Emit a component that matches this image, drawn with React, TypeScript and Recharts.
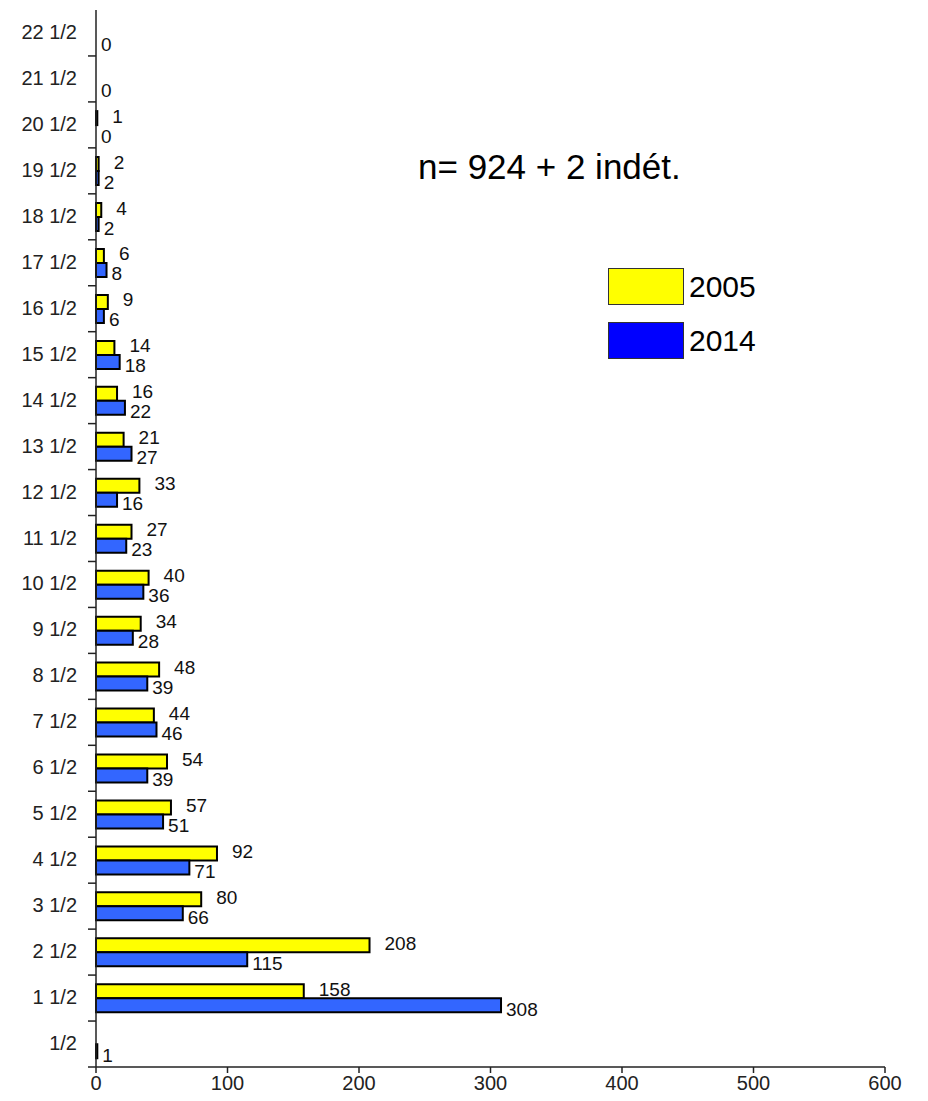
import React from "react";
import { Bar, BarChart, LabelList, Rectangle, XAxis, YAxis } from "recharts";

const categories = [
  "1/2", "1 1/2", "2 1/2", "3 1/2", "4 1/2", "5 1/2", "6 1/2", "7 1/2",
  "8 1/2", "9 1/2", "10 1/2", "11 1/2", "12 1/2", "13 1/2", "14 1/2", "15 1/2",
  "16 1/2", "17 1/2", "18 1/2", "19 1/2", "20 1/2", "21 1/2", "22 1/2",
];
const values2005 = [
  null, 158, 208, 80, 92, 57, 54, 44, 48, 34, 40, 27, 33, 21, 16, 14, 9, 6, 4, 2, 1, null, null,
];
const values2014 = [
  1, 308, 115, 66, 71, 51, 39, 46, 39, 28, 36, 23, 16, 27, 22, 18, 6, 8, 2, 2, 0, 0, 0,
];
const xTicks = [0, 100, 200, 300, 400, 500, 600];
const series = [
  { key: "y2005", name: "2005", color: "#ffff00", legend: "#ffff00" },
  { key: "y2014", name: "2014", color: "#3366ff", legend: "#0000ff" },
];

const FONT = "'Liberation Sans', Arial, sans-serif";
const CHART_W = 920;
const CHART_H = 1093;
const MARGIN = { top: 2, right: 43, left: 8, bottom: 2 };
const X_AXIS_H = 32;
const BAND = (CHART_H - MARGIN.top - MARGIN.bottom - X_AXIS_H) / categories.length;

const data = categories.map((c, i) => ({
  cat: c,
  y2005: values2005[i],
  y2014: values2014[i],
}));

const CategoryTick = (props: any) => {
  const { x, y, payload } = props;
  return (
    <g>
      <text x={x - 19} y={y} dy={6} textAnchor="end" fontSize={20} fill="#222" fontFamily={FONT}>
        {payload.value}
      </text>
      <line x1={x - 8} x2={x} y1={y + BAND / 2} y2={y + BAND / 2} stroke="#222" strokeWidth={1.5} />
    </g>
  );
};

const ValueTick = (props: any) => {
  const { x, y, payload } = props;
  return (
    <text x={x} y={y} dy={15} textAnchor="middle" fontSize={20} fill="#222" fontFamily={FONT}>
      {payload.value}
    </text>
  );
};

// zero values keep a hair-thin rect so their label is kept, but nothing is drawn
const BarShape = (props: any) => {
  if (!props.width || props.width < 0.5) return <g />;
  return <Rectangle {...props} />;
};

const makeLabel = (dx: number, dy: number) => (props: any) => {
  const { x, y, width, height, value } = props;
  if (value === null || value === undefined || value === "") return null;
  return (
    <text
      x={x + (width > 0.5 ? width : 0) + dx}
      y={y + height / 2 + dy}
      dominantBaseline="central"
      fontSize={19}
      fill="#111"
      fontFamily={FONT}
    >
      {value}
    </text>
  );
};

const labelValue = (entry: any) => {
  const v = Array.isArray(entry.value) ? entry.value[1] : entry.value;
  return v === null || v === undefined ? "" : String(v);
};

const zeroMin = (value: any) => (value === 0 ? 0.01 : 0);

const App: React.FunctionComponent = () => {
  return (
    <div style={{ position: "relative", width: CHART_W, height: CHART_H }}>
      <BarChart
        width={CHART_W}
        height={CHART_H}
        data={data}
        layout="vertical"
        margin={MARGIN}
        barCategoryGap="20%"
        barGap={0}
      >
        <XAxis
          type="number"
          domain={[0, 600]}
          ticks={xTicks}
          height={X_AXIS_H}
          tick={<ValueTick />}
          tickSize={6}
          tickMargin={2}
          axisLine={{ stroke: "#222", strokeWidth: 1.5 }}
          tickLine={{ stroke: "#222", strokeWidth: 1.5 }}
          interval={0}
        />
        <YAxis
          type="category"
          dataKey="cat"
          reversed
          width={80}
          tick={<CategoryTick />}
          tickSize={0}
          tickMargin={0}
          tickLine={false}
          axisLine={{ stroke: "#222", strokeWidth: 1.5 }}
          interval={0}
        />
        <Bar
          dataKey="y2005"
          name="2005"
          fill="#ffff00"
          stroke="#000"
          strokeWidth={2}
          shape={<BarShape />}
          minPointSize={zeroMin}
          isAnimationActive={false}
        >
          <LabelList dataKey="y2005" valueAccessor={labelValue} content={makeLabel(15, -2)} />
        </Bar>
        <Bar
          dataKey="y2014"
          name="2014"
          fill="#3366ff"
          stroke="#000"
          strokeWidth={2}
          shape={<BarShape />}
          minPointSize={zeroMin}
          isAnimationActive={false}
        >
          <LabelList dataKey="y2014" valueAccessor={labelValue} content={makeLabel(5, 4)} />
        </Bar>
      </BarChart>
      <div style={{ position: "absolute", left: 600, top: 260, fontFamily: FONT, fontSize: 30, color: "#000" }}>
        {series.map((s, i) => (
          <div key={s.name} style={{ display: "flex", alignItems: "center", marginTop: i ? 17 : 0 }}>
            <div style={{ width: 74, height: 35, background: s.legend, border: "1px solid #333" }} />
            <span style={{ marginLeft: 5 }}>{s.name}</span>
          </div>
        ))}
      </div>
      <div
        style={{
          position: "absolute",
          left: 410,
          top: 139,
          fontFamily: FONT,
          fontSize: 35,
          color: "#000",
          whiteSpace: "nowrap",
        }}
      >
        n= 924 + 2 indét.
      </div>
    </div>
  );
};

export default App;
